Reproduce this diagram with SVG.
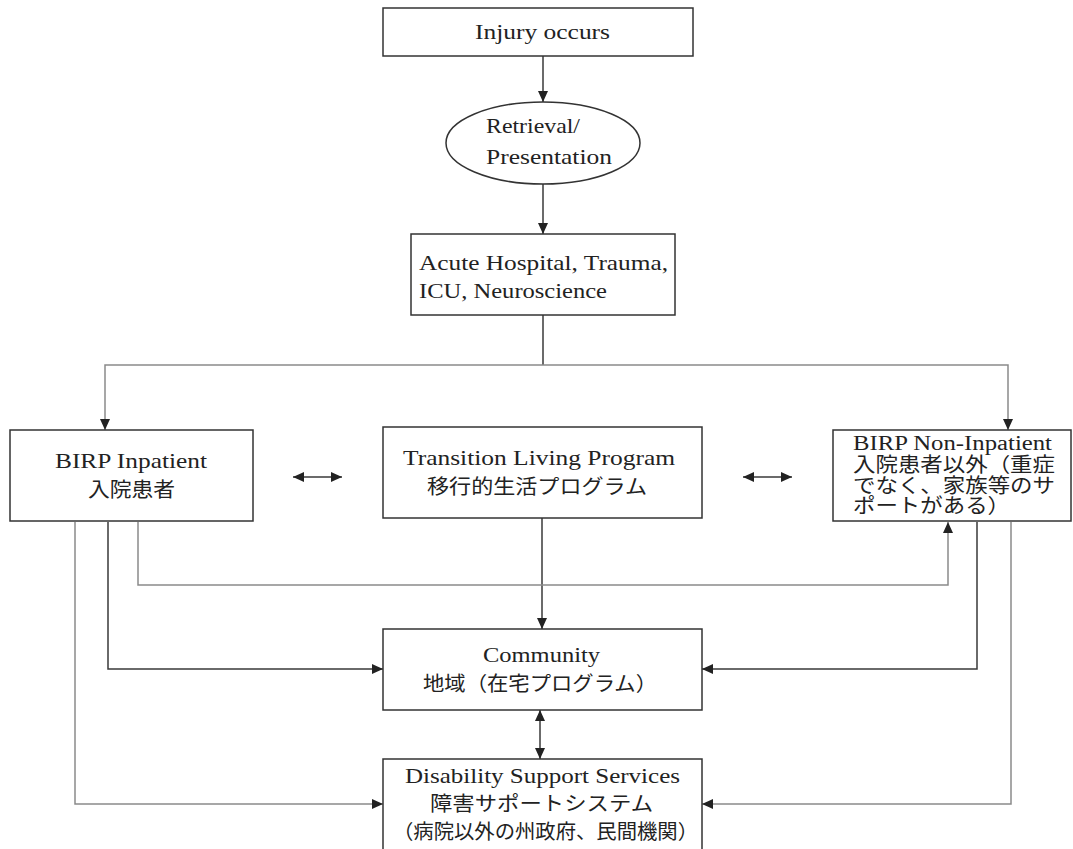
<svg xmlns="http://www.w3.org/2000/svg" width="1073" height="849" viewBox="0 0 1073 849">
<style>
.box{fill:#fff;stroke:#333;stroke-width:1.5}
.t{font-family:"Liberation Serif","Noto Sans CJK JP",serif;font-size:22px;fill:#222}
.j{font-family:"Liberation Serif","Noto Sans CJK JP",serif;font-size:20px;fill:#222}
.s{font-size:21px}
.ln{fill:none;stroke:#3a3a3a;stroke-width:1.5}
.lg{fill:none;stroke:#8a8a8a;stroke-width:1.5}
</style>
<defs>
<marker id="ah" markerUnits="userSpaceOnUse" markerWidth="12" markerHeight="10" refX="11" refY="5" orient="auto-start-reverse">
<path d="M0,0 L11,5 L0,10 Z" fill="#222"/>
</marker>
</defs>
<g id="connectors">
<path class="ln" d="M543,56 V102" marker-end="url(#ah)"/>
<path class="ln" d="M543,184 V234" marker-end="url(#ah)"/>
<path class="ln" d="M543,315 V365"/>
<path class="lg" d="M543,365 H105 V430" marker-end="url(#ah)"/>
<path class="lg" d="M543,365 H1008 V430" marker-end="url(#ah)"/>
<path class="ln" d="M293,477 H342" marker-start="url(#ah)" marker-end="url(#ah)"/>
<path class="ln" d="M743,477 H792" marker-start="url(#ah)" marker-end="url(#ah)"/>
<path class="ln" d="M542,518 V629" marker-end="url(#ah)"/>
<path class="lg" d="M138,522 V585 H948 V522" marker-end="url(#ah)"/>
<path class="ln" d="M108,522 V669 H383" marker-end="url(#ah)"/>
<path class="lg" d="M75,522 V804 H383" marker-end="url(#ah)"/>
<path class="ln" d="M977,522 V669 H702" marker-end="url(#ah)"/>
<path class="lg" d="M1011,522 V804 H702" marker-end="url(#ah)"/>
<path class="ln" d="M540,710 V759" marker-start="url(#ah)" marker-end="url(#ah)"/>
</g>
<g id="injury">
<rect class="box" x="383" y="8" width="310" height="48"/>
<text class="t" x="475" y="39" textLength="135" lengthAdjust="spacingAndGlyphs">Injury occurs</text>
</g>
<g id="retrieval">
<ellipse class="box" cx="543" cy="143" rx="97" ry="41" stroke-width="1.2"/>
<text class="t" x="486" y="133" textLength="94" lengthAdjust="spacingAndGlyphs">Retrieval/</text>
<text class="t" x="486" y="164" textLength="126" lengthAdjust="spacingAndGlyphs">Presentation</text>
</g>
<g id="acute">
<rect class="box" x="411" y="234" width="264" height="81" stroke-width="1.2"/>
<text class="t" x="419" y="270" textLength="249" lengthAdjust="spacingAndGlyphs">Acute Hospital, Trauma,</text>
<text class="t" x="419" y="298" textLength="188" lengthAdjust="spacingAndGlyphs">ICU, Neuroscience</text>
</g>
<g id="birp-inpatient">
<rect class="box" x="10" y="430" width="243" height="91"/>
<text class="t" x="55" y="468" textLength="152" lengthAdjust="spacingAndGlyphs">BIRP Inpatient</text>
<text class="j" x="88" y="497" textLength="87" lengthAdjust="spacingAndGlyphs">入院患者</text>
</g>
<g id="transition">
<rect class="box" x="383" y="427" width="319" height="91"/>
<text class="t" x="403" y="465" textLength="272" lengthAdjust="spacingAndGlyphs">Transition Living Program</text>
<text class="j" x="427" y="494" textLength="220" lengthAdjust="spacingAndGlyphs">移行的生活プログラム</text>
</g>
<g id="birp-non-inpatient">
<rect class="box" x="833" y="430" width="238" height="91"/>
<text class="j" x="853" y="450" textLength="199" lengthAdjust="spacingAndGlyphs">BIRP Non-Inpatient</text>
<text class="j" x="853" y="472" textLength="202" lengthAdjust="spacingAndGlyphs">入院患者以外（重症</text>
<text class="j" x="853" y="493" textLength="202" lengthAdjust="spacingAndGlyphs">でなく、家族等のサ</text>
<text class="j" x="853" y="513" textLength="157" lengthAdjust="spacingAndGlyphs">ポートがある）</text>
</g>
<g id="community">
<rect class="box" x="383" y="629" width="319" height="81"/>
<text class="t" x="483" y="662" textLength="117" lengthAdjust="spacingAndGlyphs">Community</text>
<text class="j" x="423" y="691" textLength="234" lengthAdjust="spacingAndGlyphs">地域（在宅プログラム）</text>
</g>
<g id="disability">
<rect class="box" x="383" y="759" width="319" height="92" stroke-width="1.2"/>
<text class="t" x="405" y="783" textLength="275" lengthAdjust="spacingAndGlyphs">Disability Support Services</text>
<text class="j" x="430" y="811" textLength="223" lengthAdjust="spacingAndGlyphs">障害サポートシステム</text>
<text class="j" x="393" y="839" textLength="305" lengthAdjust="spacingAndGlyphs">（病院以外の州政府、民間機関）</text>
</g>
</svg>
